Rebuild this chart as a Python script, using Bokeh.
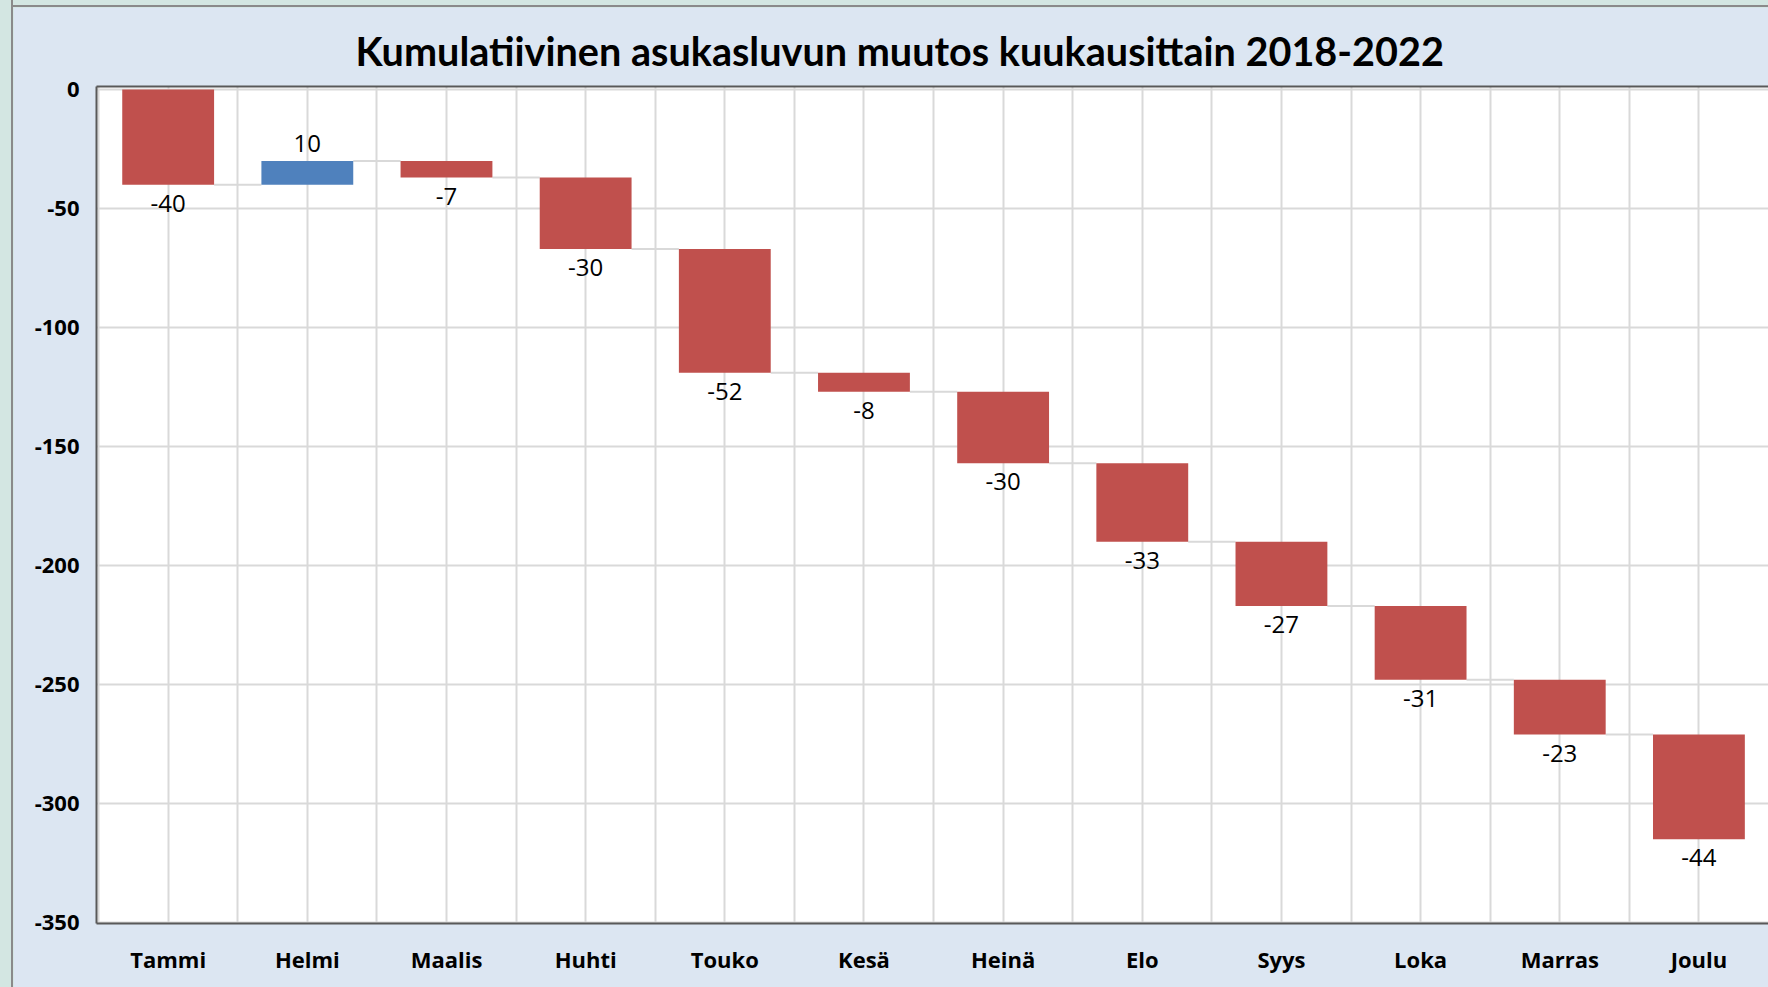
import numpy as np
from bokeh.plotting import figure
from bokeh.models import Range1d, FixedTicker, LinearAxis, Title, ColumnDataSource
from bokeh.core.properties import value
from bokeh.embed import file_html
from bokeh.resources import INLINE

# ---- data ----
months = ["Tammi", "Helmi", "Maalis", "Huhti", "Touko", "Kesä",
          "Heinä", "Elo", "Syys", "Loka", "Marras", "Joulu"]
changes = [-40, 10, -7, -30, -52, -8, -30, -33, -27, -31, -23, -44]
y_ticks = [0, -50, -100, -150, -200, -250, -300, -350]
y_labels = ["0", "-50", "-100", "-150", "-200", "-250", "-300", "-350"]
title_text = "Kumulatiivinen asukasluvun muutos kuukausittain 2018-2022"

RED = "#c0504d"
BLUE = "#4f81bd"
GRID = "#d9d9d9"
FONT = "Open Sans"

n = len(months)
xc = np.arange(n) + 0.5
end = np.cumsum(changes)
start = np.concatenate([[0], end[:-1]])
top = np.maximum(start, end)
bot = np.minimum(start, end)
colors = [BLUE if c > 0 else RED for c in changes]
bw = 0.66

p = figure(width=1755, height=980, output_backend="svg", toolbar_location=None,
           x_range=Range1d(-0.015, 12.0), y_range=Range1d(-350.4, 1.26),
           min_border_left=83, min_border_right=0, min_border_top=79,
           min_border_bottom=64, title=None)
p.background_fill_color = "white"
p.border_fill_color = "#dce6f2"
p.outline_line_color = None

# grid
p.xgrid.ticker = FixedTicker(ticks=[k * 0.5 for k in range(2 * n + 1)])
p.ygrid.ticker = FixedTicker(ticks=y_ticks)
for g in (p.xgrid, p.ygrid):
    g.grid_line_color = GRID
    g.grid_line_width = 2

# axes
ya = p.yaxis[0]
ya.ticker = FixedTicker(ticks=y_ticks)
ya.major_label_overrides = {t: l for t, l in zip(y_ticks, y_labels)}
ya.major_label_text_font = FONT
ya.major_label_text_font_style = "bold"
ya.major_label_text_font_size = "22px"
ya.major_label_text_color = "black"
ya.major_label_standoff = 17
ya.major_tick_line_color = None
ya.minor_tick_line_color = None
ya.major_tick_out = 0
ya.axis_line_color = "#595959"
ya.axis_line_width = 2

xa = p.xaxis[0]
xa.ticker = FixedTicker(ticks=list(xc))
xa.major_label_overrides = {float(x): m for x, m in zip(xc, months)}
xa.major_label_text_font = FONT
xa.major_label_text_font_style = "bold"
xa.major_label_text_font_size = "22px"
xa.major_label_text_color = "black"
xa.major_label_standoff = 20
xa.major_tick_line_color = None
xa.minor_tick_line_color = None
xa.major_tick_out = 0
xa.axis_line_color = "#595959"
xa.axis_line_width = 2

ta = LinearAxis(ticker=FixedTicker(ticks=[]), major_tick_line_color=None,
                minor_tick_line_color=None, major_tick_out=0, minor_tick_out=0,
                major_label_text_font_size="0px", major_label_standoff=0,
                axis_line_color="#595959", axis_line_width=2)
p.add_layout(ta, "above")

# connectors
p.segment(x0=xc[:-1] + bw / 2, x1=xc[1:] - bw / 2, y0=end[:-1], y1=end[:-1],
          line_color=GRID, line_width=2)

# bars
src = ColumnDataSource(dict(x=xc, top=top, bottom=bot, color=colors))
p.vbar(x="x", top="top", bottom="bottom", width=bw, fill_color="color",
       line_color=None, source=src)

# labels
neg = [i for i, c in enumerate(changes) if c < 0]
pos = [i for i, c in enumerate(changes) if c > 0]
p.text(x=[xc[i] for i in neg], y=[bot[i] for i in neg],
       text=[str(changes[i]) for i in neg], text_align="center",
       text_baseline="top", y_offset=10, text_font=value(FONT),
       text_font_size="24px", text_color="black")
p.text(x=[xc[i] for i in pos], y=[top[i] for i in pos],
       text=[str(changes[i]) for i in pos], text_align="center",
       text_baseline="bottom", y_offset=-9, text_font=value(FONT),
       text_font_size="24px", text_color="black")

# title
p.add_layout(Title(text=title_text, align="left", offset=259, standoff=26,
                   text_font="Lato", text_font_style="bold",
                   text_font_size="39.6px", text_color="black"), "above")

html = file_html(p, INLINE)
css = ("<style>html{background:#d3e6e2 !important;}"
       "body{margin:0 !important;padding:7px 0 0 13px !important;"
       "box-sizing:border-box;"
       "background:linear-gradient(to right,#d3e6e2 0,#d3e6e2 11px,#8a8a8a 11px,"
       "#8a8a8a 13px,transparent 13px),"
       "linear-gradient(to bottom,#d3e6e2 0,#d3e6e2 5px,#8a8a8a 5px,#8a8a8a 7px,"
       "transparent 7px),#d3e6e2 !important;}</style>")
html = html.replace("</head>", css + "</head>", 1)
open("out.html", "w").write(html)
